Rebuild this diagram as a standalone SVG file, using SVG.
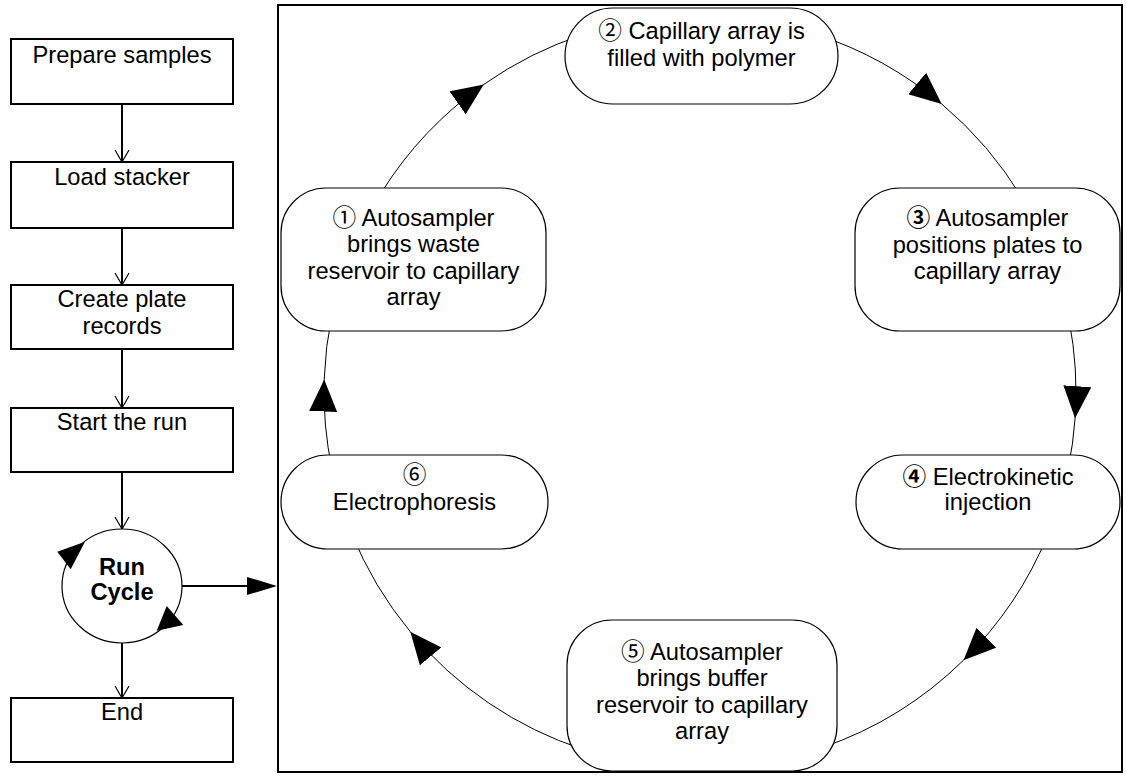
<svg xmlns="http://www.w3.org/2000/svg" width="1126" height="776" viewBox="0 0 1126 776">
<style>
text{font-family:"Liberation Sans","Noto Sans CJK JP",sans-serif;font-size:23.7px;fill:#000;text-anchor:middle}
.box{fill:#fff;stroke:#000;stroke-width:2}
.node{fill:#fff;stroke:#000;stroke-width:1.2}
.flow{fill:none;stroke:#000;stroke-width:2}
.arc{fill:none;stroke:#000;stroke-width:1}
.b{font-weight:bold}
.cb{font-weight:bold}
</style>
<defs>
<marker id="ah" markerUnits="userSpaceOnUse" markerWidth="32" markerHeight="28" viewBox="0 0 32 28" refX="32" refY="14" orient="auto"><path d="M0,0 L32,14 L0,28 z" fill="#000"/></marker>
<marker id="v" markerUnits="userSpaceOnUse" markerWidth="14" markerHeight="16" viewBox="0 0 14 16" refX="13" refY="8" orient="auto"><path d="M1,1 L13,8 L1,15" fill="none" stroke="#000" stroke-width="1.2"/></marker>
</defs>
<rect id="panel" x="278" y="5" width="844" height="767" fill="#fff" stroke="#000" stroke-width="2"/>
<g id="connectors">
<line class="flow" x1="122" y1="104" x2="122" y2="162" marker-end="url(#v)"/>
<line class="flow" x1="122" y1="228" x2="122" y2="285" marker-end="url(#v)"/>
<line class="flow" x1="122" y1="349" x2="122" y2="408" marker-end="url(#v)"/>
<line class="flow" x1="122" y1="472" x2="122" y2="529" marker-end="url(#v)"/>
<line class="flow" x1="122" y1="643" x2="122" y2="698" marker-end="url(#v)"/>
<line class="flow" x1="182" y1="586" x2="250" y2="586"/>
<polygon points="247,577 277,586 247,595" fill="#000"/>
<path class="arc" d="M381.2 192.8 A376 376 0 0 1 483.8 84.4 A376 376 0 0 1 583.8 34.4" marker-mid="url(#ah)"/>
<path class="arc" d="M816.2 34.4 A376 376 0 0 1 941.7 104.0 A376 376 0 0 1 1022.3 198.4" marker-mid="url(#ah)"/>
<path class="arc" d="M1069.1 320.3 A376 376 0 0 1 1075.1 418.2 A376 376 0 0 1 1067.8 470.2" marker-mid="url(#ah)"/>
<path class="arc" d="M1048.6 532.8 A376 376 0 0 1 963.5 660.2 A376 376 0 0 1 822.4 747.5" marker-mid="url(#ah)"/>
<path class="arc" d="M583.8 749.6 A376 376 0 0 1 410.3 631.7 A376 376 0 0 1 351.4 532.8" marker-mid="url(#ah)"/>
<path class="arc" d="M332.2 470.2 A376 376 0 0 1 324.2 379.5 A376 376 0 0 1 332.2 313.8" marker-mid="url(#ah)"/>
</g>
<g id="prepare"><rect class="box" x="11" y="39" width="222" height="65"/><text x="122" y="63">Prepare samples</text></g>
<g id="load"><rect class="box" x="11" y="162" width="222" height="66"/><text x="122" y="185">Load stacker</text></g>
<g id="create"><rect class="box" x="11" y="285" width="222" height="64"/><text x="122" y="307">Create plate</text><text x="122" y="334">records</text></g>
<g id="start"><rect class="box" x="11" y="408" width="222" height="64"/><text x="122" y="430">Start the run</text></g>
<g id="runcycle"><ellipse cx="122" cy="586" rx="60" ry="57" fill="#fff" stroke="#000" stroke-width="1.2"/>
<polygon points="85,541.7 57.3,551.7 70.7,569.3" fill="#000"/>
<polygon points="156.7,630.7 166.7,606 183.3,625" fill="#000"/>
<text class="b" x="122" y="575">Run</text><text class="b" x="122" y="600">Cycle</text></g>
<g id="end"><rect class="box" x="11" y="698" width="222" height="64"/><text x="122" y="720">End</text></g>
<g id="n1"><rect class="node" x="281" y="188" width="265" height="143" rx="45"/>
<text x="413.5" y="225.5">① Autosampler</text><text x="413.5" y="252">brings waste</text><text x="413.5" y="278.5">reservoir to capillary</text><text x="413.5" y="305">array</text></g>
<g id="n2"><rect class="node" x="565" y="8" width="273" height="96" rx="48"/>
<text x="701.5" y="39">② Capillary array is</text><text x="701.5" y="65.5">filled with polymer</text></g>
<g id="n3"><rect class="node" x="855" y="188" width="265" height="143" rx="45"/>
<text x="987.5" y="226"><tspan class="cb">③</tspan> Autosampler</text><text x="987.5" y="252.5">positions plates to</text><text x="987.5" y="279">capillary array</text></g>
<g id="n4"><rect class="node" x="856" y="455" width="264" height="94" rx="47"/>
<text x="988" y="485"><tspan class="cb">④</tspan> Electrokinetic</text><text x="988" y="510">injection</text></g>
<g id="n5"><rect class="node" x="567" y="620" width="270" height="151" rx="45"/>
<text x="702" y="659.5">⑤ Autosampler</text><text x="702" y="686">brings buffer</text><text x="702" y="712.5">reservoir to capillary</text><text x="702" y="739">array</text></g>
<g id="n6"><rect class="node" x="281" y="455" width="267" height="94" rx="47"/>
<text x="414.5" y="483">⑥</text><text x="414.5" y="510">Electrophoresis</text></g>
</svg>
